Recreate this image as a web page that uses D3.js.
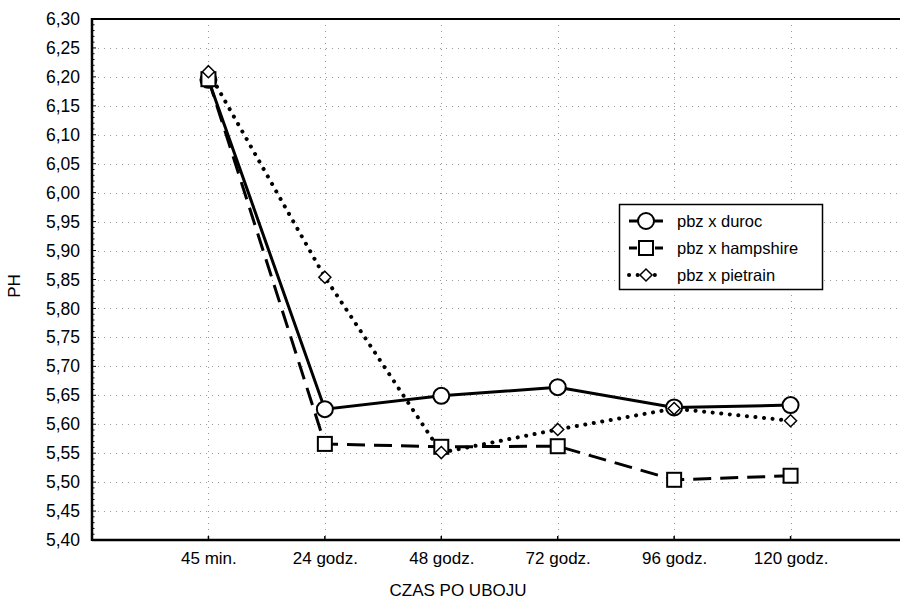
<!DOCTYPE html>
<html>
<head>
<meta charset="utf-8">
<script src="https://cdn.jsdelivr.net/npm/d3@7"></script>
<style>
  body { margin: 0; background: #fff; }
  text { font-family: Arial, "Liberation Sans", sans-serif; fill: #000; }
</style>
</head>
<body>
<svg id="chart"></svg>
<script>
const categories = ['45 min.', '24 godz.', '48 godz.', '72 godz.', '96 godz.', '120 godz.'];
const duroc = [6.195, 5.626, 5.649, 5.664, 5.629, 5.633];
const hampshire = [6.196, 5.566, 5.561, 5.562, 5.504, 5.511];
const pietrain = [6.209, 5.854, 5.551, 5.591, 5.627, 5.606];
const seriesNames = ['pbz x duroc', 'pbz x hampshire', 'pbz x pietrain'];
const yTicks = d3.range(0, 19).map(i => +(5.40 + i * 0.05).toFixed(2));

const width = 900, height = 601;
const margin = { left: 92, top: 19, right: -7, bottom: 61 };
const font = 'Arial, "Liberation Sans", sans-serif';

const svg = d3.select('#chart').attr('width', width).attr('height', height);

const x = d3.scalePoint()
  .domain(categories)
  .range([margin.left, width - margin.right])
  .padding(1);

const y = d3.scaleLinear()
  .domain([5.40, 6.30])
  .range([height - margin.bottom, margin.top]);

const fmt = v => d3.format('.2f')(v).replace('.', ',');

// grid
const grid = svg.append('g').attr('stroke', '#999').attr('stroke-width', 1)
  .attr('stroke-dasharray', '1 5');
grid.selectAll('.h').data(yTicks.slice(1, -1)).enter().append('line')
  .attr('x1', margin.left).attr('x2', width)
  .attr('y1', d => Math.round(y(d)) + 0.5).attr('y2', d => Math.round(y(d)) + 0.5);
grid.selectAll('.v').data(categories).enter().append('line')
  .attr('x1', d => Math.round(x(d)) + 0.5).attr('x2', d => Math.round(x(d)) + 0.5)
  .attr('y1', margin.top).attr('y2', height - margin.bottom);

// y axis
const yAxis = svg.append('g')
  .attr('transform', `translate(${margin.left},0)`)
  .call(d3.axisLeft(y).tickValues(yTicks).tickFormat(fmt).tickSize(0).tickPadding(12));
yAxis.select('.domain').remove();
yAxis.selectAll('text').style('font-size', '17.5px').attr('font-family', font);

// minor ticks on the left axis
const minor = d3.range(0, 91).map(i => 5.40 + i * 0.01);
svg.append('g').selectAll('line').data(minor).enter().append('line')
  .attr('x1', margin.left).attr('x2', (d, i) => margin.left + (i % 5 === 0 ? 4 : 2.5))
  .attr('y1', d => y(d)).attr('y2', d => y(d))
  .attr('stroke', '#000').attr('stroke-width', 1);

// x axis
const xAxis = svg.append('g')
  .attr('transform', `translate(0,${height - margin.bottom})`)
  .call(d3.axisBottom(x).tickSize(0).tickPadding(12));
xAxis.select('.domain').remove();
xAxis.selectAll('text').style('font-size', '17px').attr('font-family', font);
svg.append('g').selectAll('line').data(categories).enter().append('line')
  .attr('x1', d => x(d)).attr('x2', d => x(d))
  .attr('y1', height - margin.bottom).attr('y2', height - margin.bottom - 4)
  .attr('stroke', '#000').attr('stroke-width', 1.5);

// frame
svg.append('line').attr('x1', margin.left).attr('x2', width)
  .attr('y1', margin.top).attr('y2', margin.top).attr('stroke', '#000').attr('stroke-width', 2);
svg.append('line').attr('x1', margin.left).attr('x2', width)
  .attr('y1', height - margin.bottom).attr('y2', height - margin.bottom).attr('stroke', '#000').attr('stroke-width', 2.5);
svg.append('line').attr('x1', margin.left).attr('x2', margin.left)
  .attr('y1', margin.top - 1).attr('y2', height - margin.bottom + 1).attr('stroke', '#000').attr('stroke-width', 2.5);

// axis titles
svg.append('text').attr('x', 458).attr('y', 596).attr('text-anchor', 'middle')
  .style('font-size', '17px').text('CZAS PO UBOJU');
svg.append('text').attr('transform', 'translate(20,286) rotate(-90)').attr('text-anchor', 'middle')
  .style('font-size', '17px').text('PH');

// series
const styles = [
  { data: duroc, dash: null, cap: 'butt', width: 3, shape: 'circle' },
  { data: hampshire, dash: '18 9', cap: 'butt', width: 3, shape: 'square' },
  { data: pietrain, dash: '0.1 8.5', cap: 'round', width: 4, shape: 'diamond' }
];

const line = d3.line().x((d, i) => x(categories[i])).y(d => y(d));

function drawMarker(g, shape, cx, cy) {
  if (shape === 'circle') {
    g.append('circle').attr('cx', cx).attr('cy', cy).attr('r', 8)
      .attr('fill', '#fff').attr('stroke', '#000').attr('stroke-width', 2);
  } else if (shape === 'square') {
    g.append('rect').attr('x', cx - 7).attr('y', cy - 7).attr('width', 14).attr('height', 14)
      .attr('fill', '#fff').attr('stroke', '#000').attr('stroke-width', 2);
  } else {
    const r = 6;
    g.append('path').attr('d', `M${cx},${cy - r}L${cx + r},${cy}L${cx},${cy + r}L${cx - r},${cy}Z`)
      .attr('fill', '#fff').attr('stroke', '#000').attr('stroke-width', 1.5);
  }
}

styles.forEach(s => {
  svg.append('path').datum(s.data).attr('d', line)
    .attr('fill', 'none').attr('stroke', '#000').attr('stroke-width', s.width)
    .attr('stroke-linecap', s.cap).attr('stroke-dasharray', s.dash);
});
styles.forEach(s => {
  const g = svg.append('g');
  s.data.forEach((v, i) => drawMarker(g, s.shape, x(categories[i]), y(v)));
});

// legend
const lg = svg.append('g');
lg.append('rect').attr('x', 619.5).attr('y', 204.5).attr('width', 203).attr('height', 85)
  .attr('fill', '#fff').attr('stroke', '#000').attr('stroke-width', 1.5);
seriesNames.forEach((name, i) => {
  const s = styles[i];
  const ly = 221 + i * 27;
  lg.append('line').attr('x1', 629).attr('x2', 663).attr('y1', ly).attr('y2', ly)
    .attr('stroke', '#000').attr('stroke-width', s.width).attr('stroke-linecap', s.cap)
    .attr('stroke-dasharray', s.dash ? (i === 2 ? '0.1 8.5' : '8 18') : null);
  drawMarker(lg, s.shape, 646, ly);
  lg.append('text').attr('x', 677).attr('y', ly + 6).style('font-size', '16.5px').text(name);
});
</script>
</body>
</html>
